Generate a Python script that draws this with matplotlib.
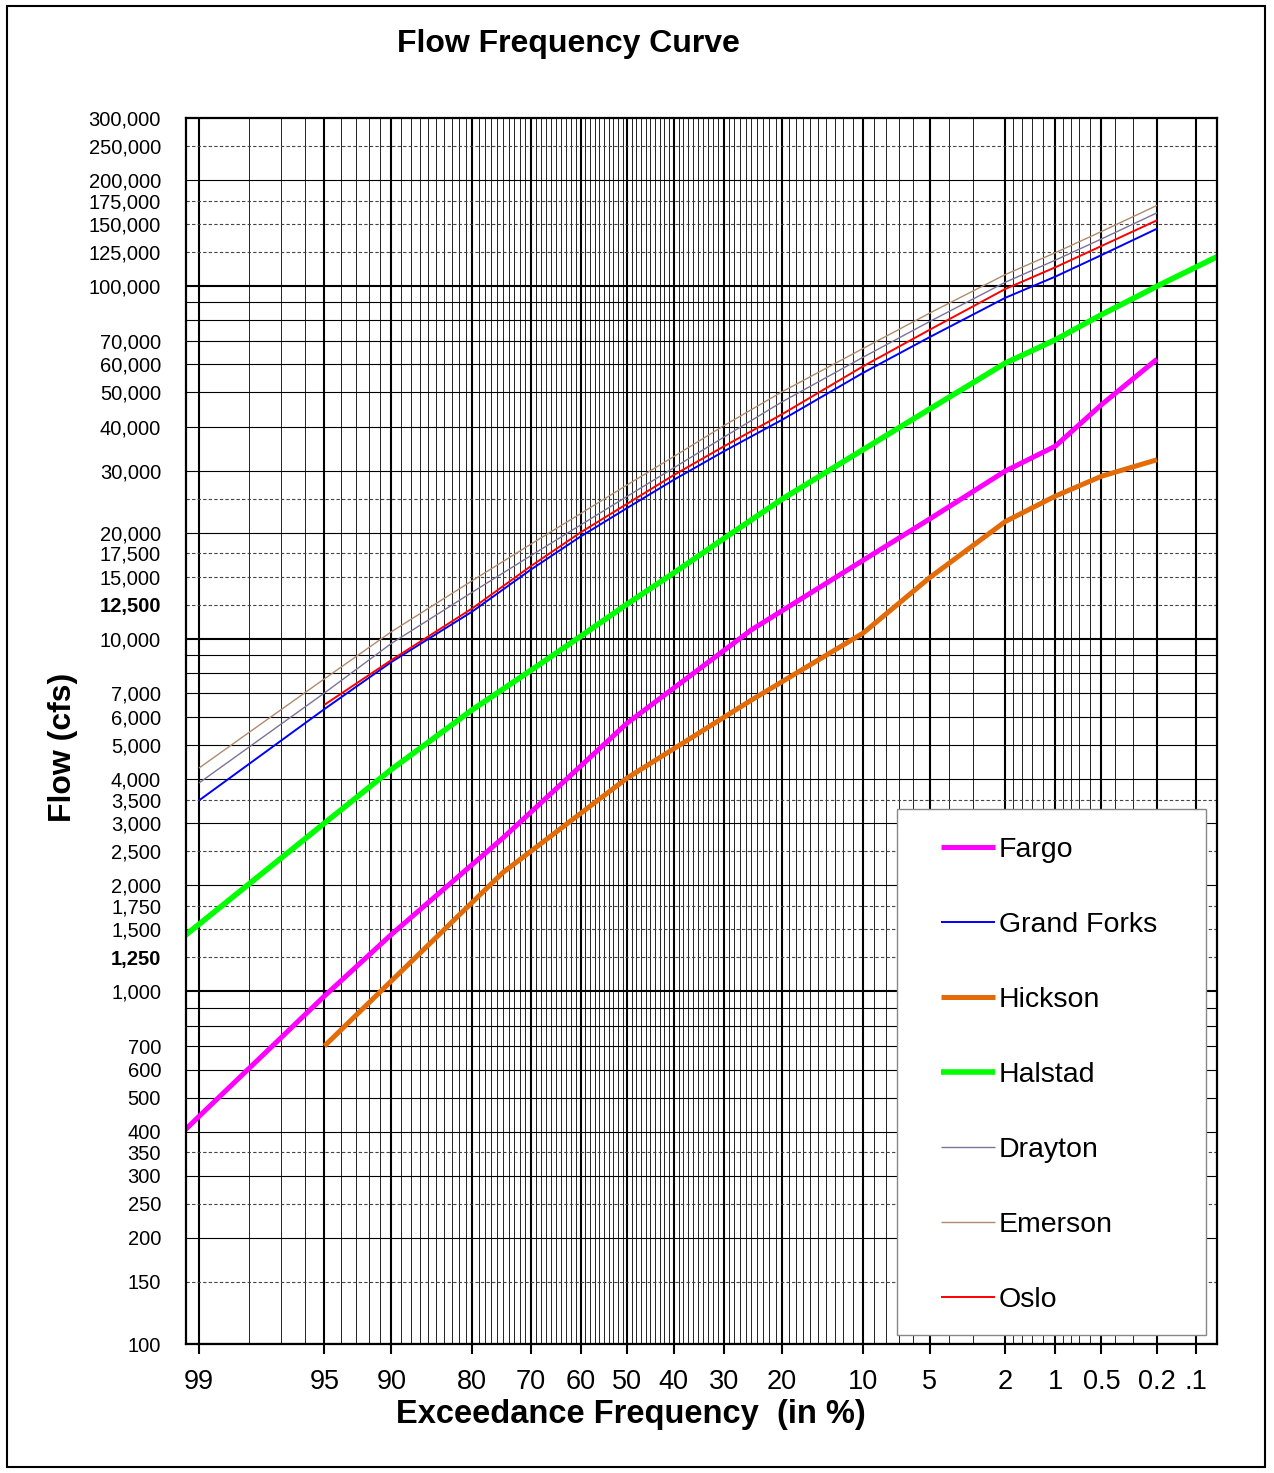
import numpy as np
import matplotlib
matplotlib.use("Agg")
import matplotlib.pyplot as plt
from matplotlib.patches import Rectangle
from statistics import NormalDist

plt.rcParams['font.family'] = ['Liberation Sans', 'DejaVu Sans']

# exceedance frequency (%) and flow (cfs)
p_std = [99, 95, 90, 80, 70, 60, 50, 40, 30, 20, 10, 5, 2, 1, 0.5, 0.2]

fargo_p = [99.5, 99, 95, 90, 75, 50, 25, 10, 5, 2, 1, 0.5, 0.2]
fargo_q = [330, 442, 970, 1450, 2725, 5770, 10600, 16700, 21900, 29900, 35200, 46100, 62100]

grand_forks_p = p_std
grand_forks_q = [3480, 6320, 8590, 11950, 15700, 19500, 23500, 28250, 34000, 41800,
                 56800, 71800, 92700, 106500, 122500, 145600]

hickson_p = [95, 75, 50, 25, 10, 5, 2, 1, 0.5, 0.2]
hickson_q = [700, 2175, 4030, 6700, 10380, 14930, 21500, 25400, 28900, 32200]

halstad_p = [99.5, 99, 95, 90, 80, 70, 60, 50, 40, 30, 20, 10, 5, 2, 1, 0.5, 0.2, 0.05]
halstad_q = [1220, 1550, 3000, 4260, 6290, 8130, 10160, 12550, 15380, 19240, 24900,
             34400, 44900, 60500, 70500, 83000, 100000, 127600]

drayton_p = p_std
drayton_q = [3900, 7020, 9700, 13560, 17200, 21030, 25360, 30550, 37300, 47000,
             62900, 79500, 102600, 118600, 136100, 161500]

emerson_p = p_std
emerson_q = [4300, 7700, 10470, 14620, 18540, 22650, 27330, 32880, 40200, 50200,
             66600, 84000, 107900, 124500, 142900, 169500]

oslo_p = p_std[1:]
oslo_q = [6500, 8700, 12200, 16060, 20030, 24160, 29140, 35120, 43360, 59270,
          75340, 98200, 113200, 130000, 153800]

x_major = [99, 95, 90, 80, 70, 60, 50, 40, 30, 20, 10, 5, 2, 1, 0.5, 0.2, 0.1]
x_major_labels = ['99', '95', '90', '80', '70', '60', '50', '40', '30', '20',
                  '10', '5', '2', '1', '0.5', '0.2', '.1']
x_minor = (list(range(1, 100)) + [1.2, 1.4, 1.6, 1.8]
           + [0.9, 0.8, 0.7, 0.6, 0.5, 0.4, 0.3, 0.2, 0.1])

y_decades = [100, 1000, 10000, 100000]
y_solid = [200, 300, 400, 500, 600, 700, 800, 900,
           2000, 3000, 4000, 5000, 6000, 7000, 8000, 9000,
           20000, 30000, 40000, 50000, 60000, 70000, 80000, 90000, 200000]
y_dashed = [150, 250, 350, 1250, 1500, 1750, 2500, 3500,
            12500, 15000, 17500, 25000, 125000, 150000, 175000, 250000]
y_labeled = [100, 150, 200, 250, 300, 350, 400, 500, 600, 700,
             1000, 1250, 1500, 1750, 2000, 2500, 3000, 3500, 4000, 5000, 6000, 7000,
             10000, 12500, 15000, 17500, 20000, 30000, 40000, 50000, 60000, 70000,
             100000, 125000, 150000, 175000, 200000, 250000, 300000]
y_bold = [1250, 12500]

_nd = NormalDist()


def _fwd(p):
    p = np.clip(np.asarray(p, dtype=float), 1e-7, 100 - 1e-7)
    return np.vectorize(lambda v: _nd.inv_cdf(v / 100.0), otypes=[float])(p)


def _inv(z):
    z = np.asarray(z, dtype=float)
    return np.vectorize(lambda v: 100.0 * _nd.cdf(v), otypes=[float])(z)


W, H = 1274, 1473
fig = plt.figure(figsize=(W / 100, H / 100), dpi=100)
ax = fig.add_axes([186 / W, 1 - 1344 / H, (1217 - 186) / W, (1344 - 118) / H])
ax.set_xscale('function', functions=(_fwd, _inv))
ax.set_yscale('log')

# grid
for v in y_solid:
    ax.axhline(v, color='black', lw=0.8, zorder=1)
for v in y_decades:
    ax.axhline(v, color='black', lw=1.5, zorder=1)
for v in y_dashed:
    ax.axhline(v, color='#444444', lw=0.8, ls=(0, (3, 2)), zorder=1)

ax.set_xticks(x_major)
ax.set_xticklabels(x_major_labels)
ax.set_xticks(x_minor, minor=True)
ax.grid(True, axis='x', which='major', color='black', lw=1.5, zorder=1)
ax.grid(True, axis='x', which='minor', color='#222222', lw=0.7, zorder=1)
ax.set_axisbelow(True)

series = [
    ('Fargo', fargo_p, fargo_q, '#FF00FF', 3.6),
    ('Grand Forks', grand_forks_p, grand_forks_q, '#0000FF', 1.4),
    ('Hickson', hickson_p, hickson_q, '#E36C09', 3.6),
    ('Halstad', halstad_p, halstad_q, '#00FF00', 4.0),
    ('Drayton', drayton_p, drayton_q, '#7D7399', 1.0),
    ('Emerson', emerson_p, emerson_q, '#B08B6E', 1.0),
    ('Oslo', oslo_p, oslo_q, '#FF0000', 1.4),
]
for name, p, q, c, lw in series:
    ax.plot(p, q, color=c, lw=lw, label=name, zorder=3, solid_capstyle='butt')

ax.set_xlim(99.173, 0.0677)
ax.set_ylim(100, 300000)

# y ticks
ax.set_yticks(y_labeled)
ax.set_yticklabels([f'{v:,}' for v in y_labeled])
for lab, v in zip(ax.get_yticklabels(), y_labeled):
    if v in y_bold:
        lab.set_fontweight('bold')
ax.set_yticks(y_decades, minor=True)
ax.tick_params(axis='y', which='major', length=0, pad=18, labelsize=14.5)
ax.tick_params(axis='y', which='minor', length=9, width=1.4, color='#777777',
               direction='out', labelleft=False)
ax.tick_params(axis='x', which='major', length=7, width=1.5, direction='out',
               labelsize=19.5, pad=11)
ax.tick_params(axis='x', which='minor', length=0)

for s in ax.spines.values():
    s.set_linewidth(1.6)
    s.set_zorder(4)

ax.set_xlabel('Exceedance Frequency  (in %)', fontsize=23.5, fontweight='bold')
ax.xaxis.set_label_coords((631 - 186) / 1031, -(1414 - 1344) / 1226)
ax.xaxis.label.set_va('center')
ax.set_ylabel('Flow (cfs)', fontsize=23, fontweight='bold')
ax.yaxis.set_label_coords((63 - 186) / 1031, (1344 - 747) / 1226)
ax.yaxis.label.set_va('center')

fig.text(568 / W, 1 - 44 / H, 'Flow Frequency Curve', ha='center', va='center',
         fontsize=23, fontweight='bold')

# legend with a plain box
ax.add_patch(Rectangle(((897 - 186) / 1031, (1344 - 1335) / 1226),
                       (1206 - 897) / 1031, (1335 - 809) / 1226,
                       transform=ax.transAxes, facecolor='white',
                       edgecolor='#888888', lw=1.0, zorder=5))
leg = ax.legend(loc='upper left', bbox_to_anchor=((941 - 186) / 1031, (1344 - 837) / 1226),
                frameon=False, borderaxespad=0, borderpad=0, fontsize=20.5,
                handlelength=1.9, handletextpad=0.14, labelspacing=1.72)
leg.set_zorder(6)

fig.patches.append(Rectangle((7 / W, 6 / H), (1265 - 7) / W, (1467 - 6) / H,
                             transform=fig.transFigure, fill=False,
                             edgecolor='black', lw=1.5))

fig.savefig('out.png', dpi=100)
